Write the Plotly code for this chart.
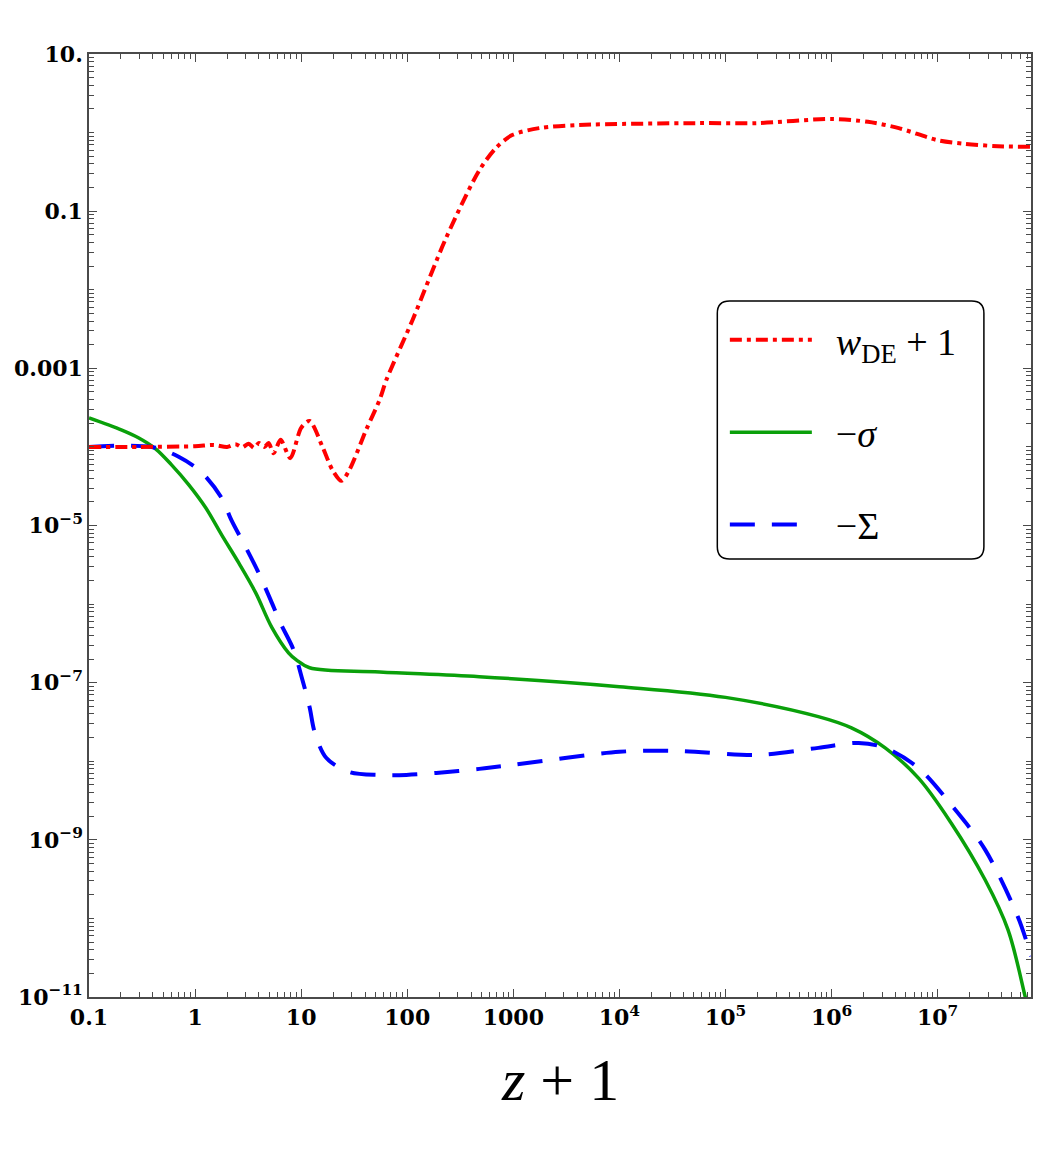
import plotly.graph_objects as go

# ---- data ----
red_x = [0.1, 0.3, 1, 1.5, 2, 2.4, 2.8, 3.2, 3.6, 4.0, 4.5, 4.93, 5.5, 6.4, 7.9, 10, 12,
         15.9, 19.7, 24, 28.5, 41, 55, 63.5, 112, 233, 477, 689, 975, 1750, 4160,
         5.6e4, 2e5, 1e6, 2.2e6, 4.3e6, 1e7, 1.8e7, 3.7e7, 7.6e7]
red_y = [1.0e-4, 1.0e-4, 1.02e-4, 1.06e-4, 1.0e-4, 1.08e-4, 0.99e-4, 1.1e-4, 0.97e-4,
         1.12e-4, 1.0e-4, 1.12e-4, 0.83e-4, 1.23e-4, 0.72e-4, 1.75e-4, 2.14e-4,
         1.0e-4, 5.1e-5, 3.7e-5, 5.1e-5, 1.65e-4, 4.0e-4, 7.1e-4, 4.1e-3, 0.046, 0.33,
         0.64, 0.93, 1.14, 1.25, 1.32, 1.32, 1.49, 1.37, 1.14, 0.80, 0.72, 0.67, 0.66]

green_x = [0.1, 0.204, 0.295, 0.427, 0.6, 0.873, 1.26, 1.78, 2.58, 3.73, 5.27, 7.6, 9.0,
           12, 55, 477, 1e4, 1e5, 7.5e5, 1.54e6, 3.2e6, 6.6e6, 1.34e7, 2.8e7, 4.6e7,
           6.7e7, 7.6e7]
green_y = [2.34e-4, 1.64e-4, 1.30e-4, 9.4e-5, 5.9e-5, 3.29e-5, 1.68e-5, 7.6e-6, 3.34e-6,
           1.39e-6, 5.1e-7, 2.4e-7, 1.95e-7, 1.55e-7, 1.37e-7, 1.19e-7, 8.9e-8, 6.5e-8,
           3.7e-8, 2.66e-8, 1.48e-8, 6.1e-9, 1.64e-9, 3.1e-10, 7.2e-11, 1.0e-11, 5e-12]

blue_x = [0.1, 0.39, 0.7, 1.16, 1.78, 2.2, 3.0, 3.97, 5.15, 6.4, 8.5, 10.1, 12, 13.4,
          17.3, 28.5, 55, 98, 188, 477, 1000, 1e4, 3.6e4, 2e5, 7.5e5, 1.8e6, 3.2e6,
          6.6e6, 1.34e7, 2.8e7, 5.7e7, 7.6e7]
blue_y = [1.0e-4, 1.0e-4, 7.5e-5, 4.7e-5, 2.24e-5, 1.17e-5, 5.3e-6, 2.5e-6, 1.13e-6,
          5.7e-7, 2.6e-7, 1.18e-7, 4.9e-8, 2.35e-8, 1.1e-8, 7.3e-9, 6.7e-9, 6.7e-9,
          7.1e-9, 8.0e-9, 9.0e-9, 1.32e-8, 1.35e-8, 1.2e-8, 1.48e-8, 1.71e-8, 1.48e-8,
          8.2e-9, 2.8e-9, 7.5e-10, 1.05e-10, 3.3e-11]

x_tickvals = [0.1, 1, 10, 100, 1000, 1e4, 1e5, 1e6, 1e7]
x_ticktext = ["0.1", "1", "10", "100", "1000", "10<sup>4</sup>", "10<sup>5</sup>",
              "10<sup>6</sup>", "10<sup>7</sup>"]
y_tickvals = [10, 0.1, 1e-3, 1e-5, 1e-7, 1e-9, 1e-11]
y_ticktext = ["10.", "0.1", "0.001", "10<sup>−5</sup>", "10<sup>−7</sup>",
              "10<sup>−9</sup>", "10<sup>−11</sup>"]

labels = ["<i>w</i><sub>DE</sub> + 1", "−<i>σ</i>", "−Σ"]

RED = "#FF0000"
GREEN = "#0AA00A"
BLUE = "#0000FF"

pad = "&nbsp;&nbsp;"

fig = go.Figure()
fig.add_trace(go.Scatter(x=green_x, y=green_y, mode="lines", name=pad + labels[1],
                         legendgroup="g2", legendrank=2,
                         line=dict(color=GREEN, width=3.5, shape="spline", smoothing=1.0)))
fig.add_trace(go.Scatter(x=blue_x, y=blue_y, mode="lines", name=pad + labels[2],
                         legendgroup="g3", legendrank=3,
                         line=dict(color=BLUE, width=4, dash="25px,17px", shape="spline",
                                   smoothing=0.9)))
fig.add_trace(go.Scatter(x=red_x, y=red_y, mode="lines", name=pad + labels[0],
                         legendgroup="g1", legendrank=1,
                         line=dict(color=RED, width=4, dash="12px,5px,4px,5px",
                                   shape="spline", smoothing=0.8)))

# minor ticks: every digit of every decade
x_minor = [k * 10 ** n for n in range(-1, 8) for k in range(2, 10)]
y_minor = [k * 10 ** n for n in range(-11, 1) for k in range(1, 10)]

axis_common = dict(type="log", showgrid=False, zeroline=False, showline=True,
                   linecolor="#4a4a4a", linewidth=1.5, mirror="ticks", ticks="inside",
                   ticklen=8, tickwidth=1.3, tickcolor="#4a4a4a",
                   tickfont=dict(family="DejaVu Serif", size=22, color="black",
                                 weight="bold"))

fig.update_xaxes(**axis_common, range=[-1, 7.88], tickmode="array",
                 tickvals=x_tickvals, ticktext=x_ticktext,
                 minor=dict(tickmode="array", tickvals=x_minor, ticks="inside",
                            ticklen=5, tickwidth=1, tickcolor="#4a4a4a"))
fig.update_yaxes(**axis_common, range=[-11, 1], tickmode="array",
                 tickvals=y_tickvals, ticktext=y_ticktext,
                 minor=dict(tickmode="array", tickvals=y_minor, ticks="inside",
                            ticklen=5, tickwidth=1, tickcolor="#4a4a4a"))

# rounded legend frame
x0, x1, y0, y1 = 0.667, 0.950, 0.4645, 0.738
rx, ry = 0.013, 0.013
path = (f"M {x0+rx},{y0} L {x1-rx},{y0} Q {x1},{y0} {x1},{y0+ry} "
        f"L {x1},{y1-ry} Q {x1},{y1} {x1-rx},{y1} L {x0+rx},{y1} "
        f"Q {x0},{y1} {x0},{y1-ry} L {x0},{y0+ry} Q {x0},{y0} {x0+rx},{y0} Z")
fig.add_shape(type="path", path=path, xref="paper", yref="paper",
              line=dict(color="black", width=1.5), fillcolor="white", layer="below")

fig.add_annotation(text="<i>z</i> + 1", xref="paper", yref="paper", x=0.5, y=-0.088,
                   xanchor="center", yanchor="middle", showarrow=False,
                   font=dict(family="Liberation Serif", size=60, color="black"))

fig.update_layout(
    width=1042, height=1153,
    margin=dict(l=89, r=9, t=54, b=156),
    paper_bgcolor="white", plot_bgcolor="white",
    showlegend=True,
    legend=dict(x=0.675, xanchor="left", y=0.730, yanchor="top",
                bgcolor="rgba(0,0,0,0)", borderwidth=0, itemwidth=82,
                traceorder="grouped", tracegroupgap=40,
                font=dict(family="Liberation Serif", size=38, color="black")),
)

fig.write_html("out.html")
